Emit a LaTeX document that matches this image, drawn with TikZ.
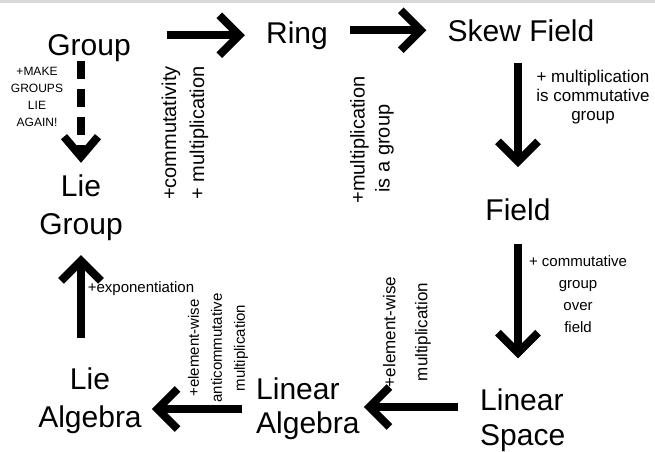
\documentclass[tikz,border=0pt]{standalone}
\usepackage{fontspec}
\setmainfont{Liberation Sans}
\usetikzlibrary{arrows.meta,calc}
\begin{document}
\begin{tikzpicture}[x=1pt,y=-1pt,
  main/.style={inner sep=0pt, font=\fontsize{30}{38}\selectfont},
  lbl/.style={inner sep=0pt, align=center},
  bigarrow/.style={line width=8pt, -{Straight Barb[length=20pt,width=40pt]}},
]
\useasboundingbox (0,0) rectangle (655,451);
\fill[black!15] (0,0) rectangle (655,3);

% main nodes
\node[main, anchor=base] (group) at (89,55) {Group};
\node[main, anchor=base] (ring) at (297,43) {Ring};
\node[main, anchor=base] (skew) at (521,41) {Skew Field};
\node[main, anchor=base] (field) at (518,220) {Field};
\node[main, align=left, anchor=west, font=\fontsize{30}{35}\selectfont] (linspace) at (480,420) {Linear\\Space};
\node[main, align=left, anchor=west, font=\fontsize{30}{34}\selectfont] (linalg) at (256,409) {Linear\\Algebra};
\node[main, align=center] (liealg) at (90,401) {Lie\\Algebra};
\node[main, align=center] (liegroup) at (81,208) {Lie\\Group};

% labels
\node[lbl, font=\fontsize{12}{17}\selectfont] (lmake) at (37,97) {+MAKE\\GROUPS\\LIE\\AGAIN!};
\node[lbl, rotate=90, font=\fontsize{20}{28}\selectfont] (lcomm) at (185,133) {+commutativity\\+ multiplication};
\node[lbl, rotate=90, align=left, font=\fontsize{20}{25}\selectfont] (lmulg) at (372,140) {+multiplication\\\ \ is a group};
\node[lbl, font=\fontsize{17}{19}\selectfont] (lmulc) at (593,97) {+ multiplication\\is commutative\\group};
\node[lbl, font=\fontsize{15}{22}\selectfont] (lcgof) at (578,294) {+ commutative\\group\\over\\field};
\node[lbl, rotate=90, font=\fontsize{17}{32}\selectfont] (lewm) at (407,332) {+element-wise\\multiplication};
\node[lbl, rotate=90, font=\fontsize{15}{23}\selectfont] (lewa) at (218,348) {+element-wise\\anticommutative\\multiplication};
\node[lbl, font=\fontsize{15}{18}\selectfont] (lexp) at (141,289) {+exponentiation};

% connectors
\draw[bigarrow, shorten <=36pt, shorten >=21pt] (group.east |- ring.west) -- (ring.west);
\draw[bigarrow, shorten <=22pt, shorten >=21pt] (ring.east |- skew.west) -- (skew.west);
\draw[bigarrow, shorten <=22pt, shorten >=31pt] (field.north |- skew.south) -- (field.north);
\draw[bigarrow, shorten <=23pt, shorten >=30pt] (field.south) -- (field.south |- linspace.north);
\draw[bigarrow, shorten <=22pt, shorten >=4pt] ($(linspace.west)+(0,-13)$) -- ($(linalg.east)+(0,-2)$);
\draw[bigarrow, shorten <=14pt, shorten >=10pt] (linalg.west) -- (linalg.west -| liealg.east);
\draw[bigarrow, shorten <=30pt, shorten >=14pt] (liegroup.south |- liealg.north) -- (liegroup.south);
\draw[line width=8pt, dash pattern=on 18pt off 10pt, -{Straight Barb[length=20pt,width=34pt]}, shorten >=12pt] (liegroup.north |- group.south) -- (liegroup.north);
\end{tikzpicture}
\end{document}
